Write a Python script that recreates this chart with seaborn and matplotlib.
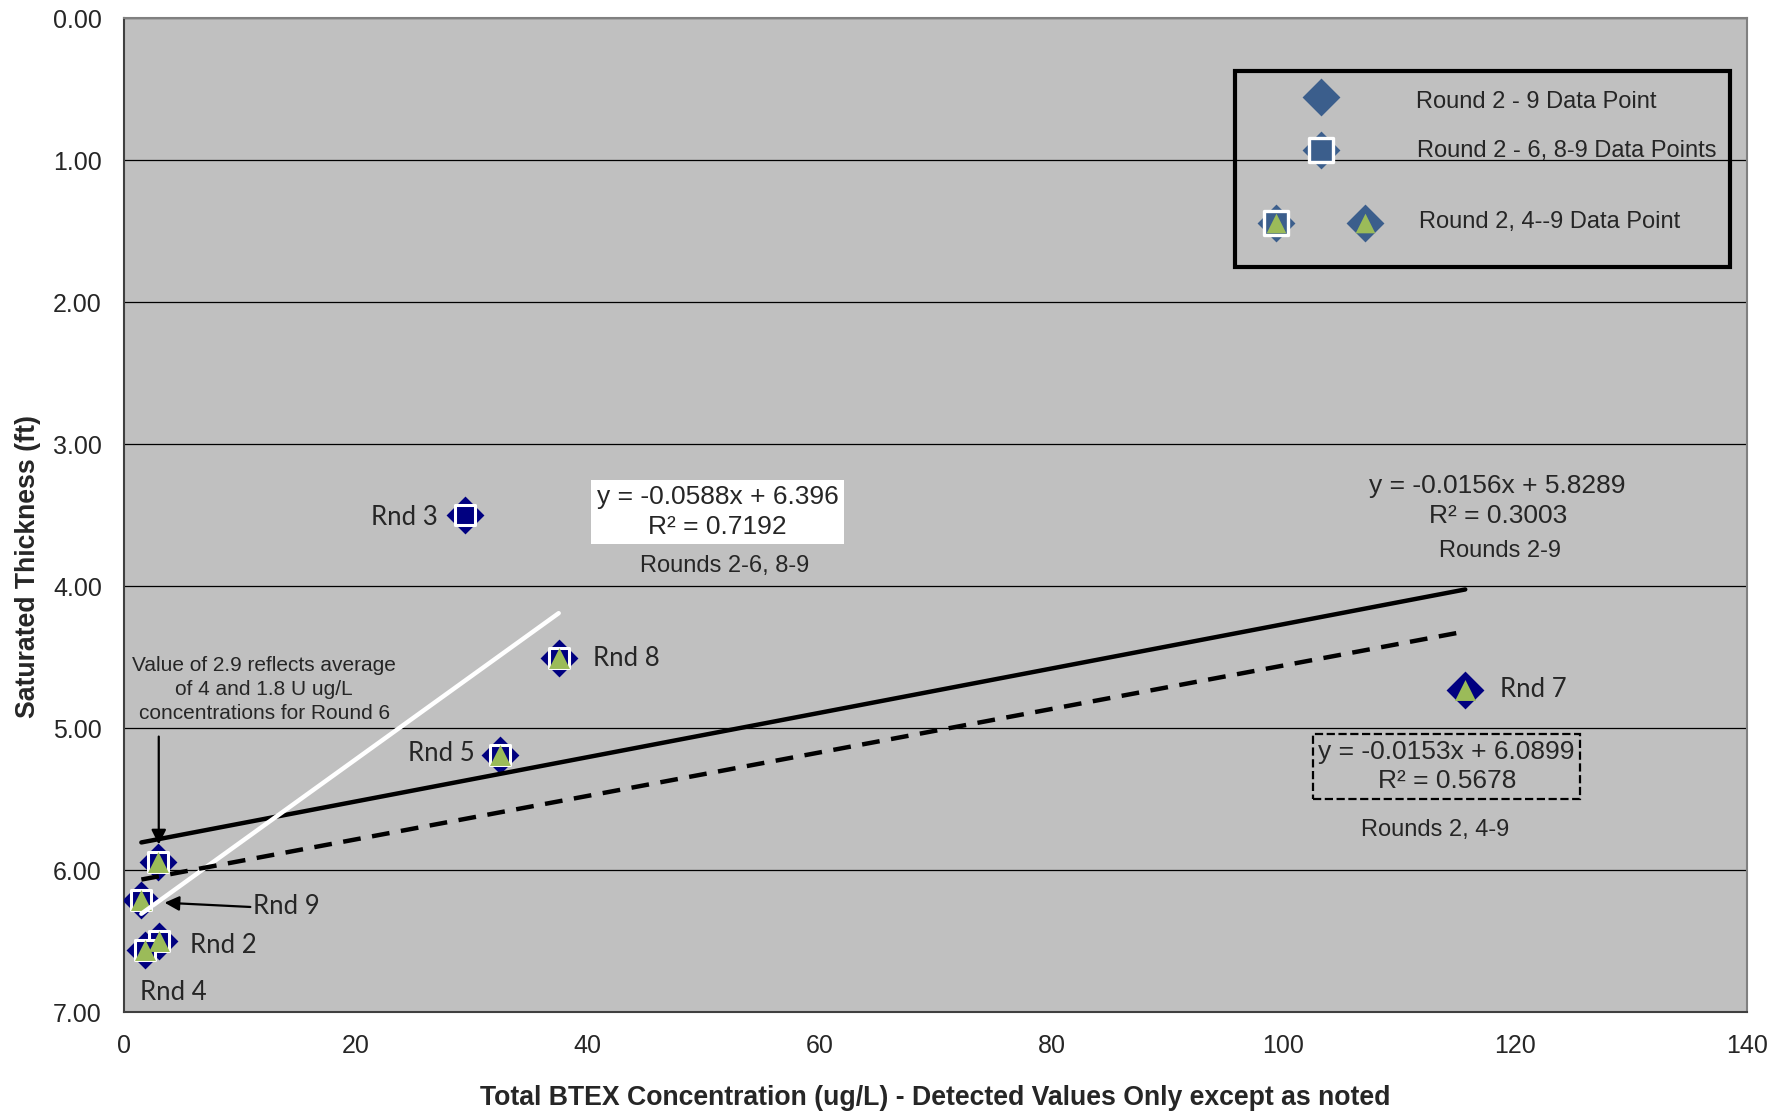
import numpy as np
import pandas as pd
import seaborn as sns
import matplotlib.pyplot as plt
from matplotlib.patches import Rectangle

# data
rounds = [2, 3, 4, 5, 6, 7, 8, 9]
btex = [3.0, 29.4, 1.8, 32.4, 2.9, 115.7, 37.5, 1.5]
thickness = [6.50, 3.50, 6.56, 5.19, 5.94, 4.73, 4.51, 6.21]

# rounds used for each trendline
set_all = [2, 3, 4, 5, 6, 7, 8, 9]
set_sq = [2, 3, 4, 5, 6, 8, 9]
set_tri = [2, 4, 5, 6, 7, 8, 9]

# excel trendline results
fit_names = ["Rounds 2-9", "Rounds 2-6, 8-9", "Rounds 2, 4-9"]
fit_slope = [-0.0156, -0.0588, -0.0153]
fit_icept = [5.8289, 6.396, 6.0899]
fit_r2 = [0.3003, 0.7192, 0.5678]

df = pd.DataFrame({"round": rounds, "btex": btex, "thick": thickness})
df["label"] = ["Rnd %d" % r for r in rounds]

sns.set_style("white", {"axes.facecolor": "#C0C0C0"})
plt.rcParams['font.family'] = ['Liberation Sans', 'DejaVu Sans']

fig = plt.figure(figsize=(17.89, 11.13), dpi=100)
ax = fig.add_axes([0.0693, 0.0907, 0.9072, 0.8931])

navy = "#000080"
green = "#9BBB59"
legblue = "#3B5E8C"

# markers: diamond for all, square and triangle overlays
sns.scatterplot(data=df[df["round"].isin(set_all)], x="btex", y="thick", marker="D",
                s=372, color=navy, linewidth=0, ax=ax, zorder=3)
sns.scatterplot(data=df[df["round"].isin(set_sq)], x="btex", y="thick", marker="s",
                s=188, color=navy, edgecolor="white", linewidth=2.2, ax=ax, zorder=4)
sns.scatterplot(data=df[df["round"].isin(set_tri)], x="btex", y="thick", marker="^",
                s=227, color=green, linewidth=0, ax=ax, zorder=5)

# trendlines over the x range of each set
line_sets = [set_all, set_sq, set_tri]
line_colors = ["black", "white", "black"]
line_styles = ["-", "-", (0, (4, 2.6))]
line_widths = [3.2, 3.2, 3.2]
for i in range(3):
    sub = df[df["round"].isin(line_sets[i])]
    xs = np.array([sub["btex"].min(), sub["btex"].max()])
    ys = fit_icept[i] + fit_slope[i] * xs
    sns.lineplot(x=xs, y=ys, color=line_colors[i], lw=line_widths[i],
                 linestyle=line_styles[i], ax=ax, zorder=6)

# point labels
label_pos = {
    2: (5.7, 6.53, "left"),
    3: (27.1, 3.52, "right"),
    4: (1.4, 6.86, "left"),
    5: (30.3, 5.18, "right"),
    7: (118.7, 4.73, "left"),
    8: (40.5, 4.51, "left"),
    9: (11.1, 6.26, "left"),
}
for r, (lx, ly, ha) in label_pos.items():
    ax.text(lx, ly, "Rnd %d" % r, ha=ha, va="center", fontsize=18.5,
            family=["Lato", "DejaVu Sans"], zorder=8)

# equation texts
def eq_text(i):
    return "y = %.4gx + %.5g\nR² = %.4f" % (fit_slope[i], fit_icept[i], fit_r2[i])

ax.text(118.5, 3.40, eq_text(0), ha="center", va="center", fontsize=19,
        linespacing=1.3, zorder=8)
ax.text(118.7, 3.75, fit_names[0], ha="center", va="center", fontsize=17, zorder=8)

ax.text(51.2, 3.48, eq_text(1), ha="center", va="center", fontsize=19,
        linespacing=1.3, zorder=8,
        bbox=dict(fc="white", ec="none", boxstyle="square,pad=0.2"))
ax.text(51.8, 3.86, fit_names[1], ha="center", va="center", fontsize=17, zorder=8)

ax.text(114.1, 5.27, eq_text(2), ha="center", va="center", fontsize=19,
        linespacing=1.3, zorder=8,
        bbox=dict(fc="none", ec="black", ls="--", lw=1.6, boxstyle="square,pad=0.2"))
ax.text(113.1, 5.72, fit_names[2], ha="center", va="center", fontsize=17, zorder=8)

ax.text(12.1, 4.73, "Value of 2.9 reflects average\nof 4 and 1.8 U ug/L\nconcentrations for Round 6",
        ha="center", va="center", fontsize=15, linespacing=1.33, zorder=8)
arrow = dict(arrowstyle="-|>", color="black", lw=1.6, mutation_scale=22, shrinkA=0, shrinkB=0)
ax.annotate("", xy=(3.0, 5.82), xytext=(3.0, 5.06), arrowprops=arrow, zorder=9)
ax.annotate("", xy=(3.5, 6.23), xytext=(10.9, 6.26), arrowprops=arrow, zorder=9)

# axes
ax.set_xlim(0, 140)
ax.set_ylim(7, 0)
ax.set_xticks(np.arange(0, 141, 20))
ax.set_yticks(np.arange(0, 7.1, 1))
ax.set_yticklabels(["%.2f" % v for v in np.arange(0, 7.1, 1)])
ax.yaxis.grid(True, color="black", lw=0.9)
ax.xaxis.grid(False)
ax.set_axisbelow(True)
ax.tick_params(axis="both", direction="out", length=6, width=1, color="#404040",
               labelsize=18, pad=10)
for side in ["top", "right"]:
    ax.spines[side].set_color("#808080")
    ax.spines[side].set_linewidth(1.5)
for side in ["left", "bottom"]:
    ax.spines[side].set_color("#404040")
    ax.spines[side].set_linewidth(1.5)

ax.set_xlabel("Total BTEX Concentration (ug/L) - Detected Values Only except as noted",
              fontsize=19.2, fontweight="bold", labelpad=19)
ax.set_ylabel("Saturated Thickness (ft)", fontsize=19.2, fontweight="bold")
ax.yaxis.set_label_coords(-0.051, 0.4487)

# legend box drawn by hand (overlaid marker symbols)
ax.add_patch(Rectangle((0.6845, 0.7495), 0.305, 0.1972, transform=ax.transAxes,
                       fill=False, ec="black", lw=3, zorder=10, clip_on=False))
tr = ax.transAxes
ax.scatter([0.7375], [0.9205], marker="D", s=372, color=legblue, lw=0, transform=tr, zorder=11)
ax.scatter([0.7375], [0.8672], marker="D", s=372, color=legblue, lw=0, transform=tr, zorder=11)
ax.scatter([0.7375], [0.8672], marker="s", s=300, color=legblue, edgecolor="white", lw=2.4,
           transform=tr, zorder=12)
ax.scatter([0.7098], [0.7938], marker="D", s=372, color=legblue, lw=0, transform=tr, zorder=11)
ax.scatter([0.7098], [0.7938], marker="s", s=300, color=legblue, edgecolor="white", lw=2.4,
           transform=tr, zorder=12)
ax.scatter([0.7098, 0.7646], [0.7938, 0.7938], marker="^", s=200, color=green, lw=0,
           transform=tr, zorder=13)
ax.scatter([0.7646], [0.7938], marker="D", s=372, color=legblue, lw=0, transform=tr, zorder=11)
leg_texts = ["Round 2 - 9 Data Point", "Round 2 - 6, 8-9 Data Points", "Round 2, 4--9 Data Point"]
leg_y = [0.9155, 0.8662, 0.7948]
leg_x = [0.7961, 0.7967, 0.7979]
for t, lx, ly in zip(leg_texts, leg_x, leg_y):
    ax.text(lx, ly, t, transform=tr, ha="left", va="center", fontsize=17, zorder=12)

fig.savefig("out.png", dpi=100)
